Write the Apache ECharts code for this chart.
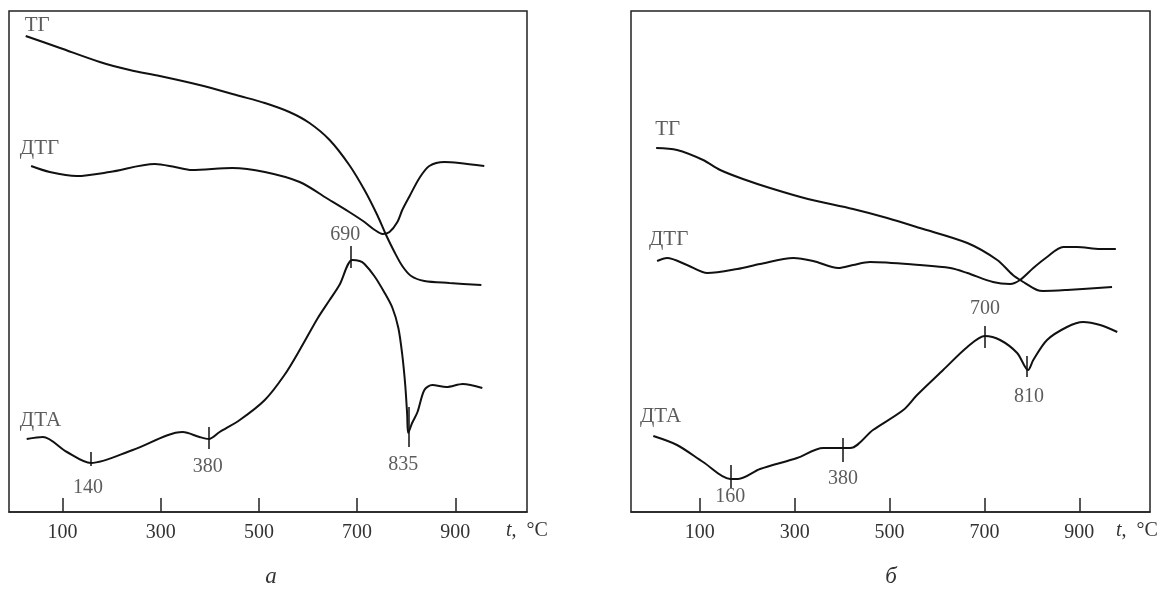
<!DOCTYPE html>
<html>
<head>
<meta charset="utf-8">
<script src="https://cdn.jsdelivr.net/npm/echarts@6/dist/echarts.min.js"></script>
<style>html,body{margin:0;padding:0;background:#fff}#c{width:1164px;height:595px}</style>
</head>
<body>
<div id="c"></div>
<script>
// x values in °C (as placed on the drawing), y in arbitrary deflection units
const tickValues = [100, 300, 500, 700, 900];

// Panel а
const tgA = [[25,476],[95,464],[176,450],[237,442],[298,436],[379,427],[461,416],[512,409],[562,400],[603,389],[644,372],[684,347],[715,322],[741,297],[759,277],[776,260],[792,246],[810,236],[837,231],[888,229],[953,227]];
const dtgA = [[36,346],[74,340],[129,336],[196,340],[288,348],[329,345],[363,342],[446,344],[512,340],[583,330],[644,312],[684,300],[715,290],[736,282],[752,278],[766,280],[782,290],[792,302],[807,316],[827,334],[847,346],[878,350],[908,349],[959,346]];
const dtaA = [[27,73],[60,75],[109,60],[158,49],[243,62],[345,80],[379,75],[398,73],[420,80],[461,92],[512,112],[552,137],[583,162],[620,194],[644,212],[664,227],[690,252],[705,251],[715,248],[735,236],[755,220],[772,204],[784,184],[792,157],[798,127],[802,97],[804,79],[812,89],[823,100],[837,122],[853,127],[882,125],[915,128],[955,124]];
const peakMarksA = [[158,46,60],[398,63,85],[688,244,266],[805,65,105]];
const peakLabelsA = [[152,24,'140'],[396,45,'380'],[676,277,'690'],[794,47,'835']];
const curveNamesA = [[23,487,'ТГ'],[13,364,'ДТГ'],[13,92,'ДТА']];

// Panel б
const tgB = [[8,364],[52,362],[107,352],[143,342],[191,333],[248,324],[328,313],[423,303],[495,294],[564,284],[664,269],[727,252],[760,237],[782,230],[811,222],[824,221],[874,222],[969,225]];
const dtgB = [[10,251],[31,254],[73,247],[116,239],[179,243],[227,248],[297,254],[339,251],[392,244],[423,247],[459,250],[564,247],[628,244],[664,239],[718,230],[754,228],[775,232],[803,244],[832,255],[866,265],[895,265],[944,263],[977,263]];
const dtaB = [[2,76],[52,67],[107,50],[164,33],[181,33],[227,43],[305,54],[360,64],[417,64],[465,82],[529,102],[558,117],[613,142],[664,165],[701,176],[733,172],[769,159],[792,142],[803,152],[832,172],[874,185],[908,190],[944,187],[980,180]];
const peakMarksB = [[166,24,47],[402,50,74],[701,164,186],[790,135,156]];
const peakLabelsB = [[164,15,'160'],[402,33,'380'],[701,203,'700'],[794,115,'810']];
const curveNamesB = [[6,383,'ТГ'],[-7,273,'ДТГ'],[-26,96,'ДТА']];

const FONT = 'Liberation Serif, DejaVu Serif, serif';
const INK = '#111';
const TXT = '#333';

function xAxisFor(idx, min, max) {
  return {
    type: 'value', gridIndex: idx, min: min, max: max,
    axisLine: { show: true, lineStyle: { color: '#222', width: 1.5 } },
    axisTick: { show: true, inside: true, length: 14, customValues: tickValues, lineStyle: { color: '#222', width: 1.5 } },
    axisLabel: { show: true, customValues: tickValues, margin: 11, fontSize: 20, fontFamily: FONT, color: TXT },
    splitLine: { show: false }
  };
}
function yAxisFor(idx) {
  return { type: 'value', gridIndex: idx, min: 0, max: 501, show: false, splitLine: { show: false } };
}
function curve(idx, data) {
  return {
    type: 'line', xAxisIndex: idx, yAxisIndex: idx, data: data, smooth: 0.3,
    showSymbol: false, symbol: 'none', silent: true, animation: false,
    lineStyle: { color: INK, width: 2 }
  };
}
function marks(idx, arr) {
  return {
    type: 'lines', coordinateSystem: 'cartesian2d', xAxisIndex: idx, yAxisIndex: idx,
    animation: false, silent: true,
    lineStyle: { color: INK, width: 1.5, opacity: 1 },
    data: arr.map(m => ({ coords: [[m[0], m[1]], [m[0], m[2]]] }))
  };
}
function texts(idx, arr, pos, size) {
  return {
    type: 'scatter', xAxisIndex: idx, yAxisIndex: idx, symbolSize: 0, clip: false,
    animation: false, silent: true,
    data: arr.map(t => ({ value: [t[0], t[1]], name: t[2] })),
    label: { show: true, position: pos, distance: 0, formatter: p => p.name,
      fontSize: size, fontFamily: FONT, color: TXT }
  };
}

const chart = echarts.init(document.getElementById('c'), null, { renderer: 'canvas' });
chart.setOption({
  backgroundColor: '#fff',
  animation: false,
  grid: [
    { left: 9, top: 11, width: 518, height: 501, show: true, borderColor: '#222', borderWidth: 1.5, backgroundColor: 'transparent' },
    { left: 631, top: 11, width: 519, height: 501, show: true, borderColor: '#222', borderWidth: 1.5, backgroundColor: 'transparent' }
  ],
  xAxis: [xAxisFor(0, -9, 1046), xAxisFor(1, -45, 1049)],
  yAxis: [yAxisFor(0), yAxisFor(1)],
  series: [
    curve(0, tgA), curve(0, dtgA), curve(0, dtaA), marks(0, peakMarksA),
    texts(0, peakLabelsA, 'inside', 20), texts(0, curveNamesA, 'right', 21),
    curve(1, tgB), curve(1, dtgB), curve(1, dtaB), marks(1, peakMarksB),
    texts(1, peakLabelsB, 'inside', 20), texts(1, curveNamesB, 'right', 21)
  ],
  graphic: [
    { type: 'text', x: 527, y: 531, silent: true, style: { text: '{i|t},  °C', textAlign: 'center', textVerticalAlign: 'middle', fill: TXT, font: '20px ' + FONT,
        rich: { i: { fontStyle: 'italic', fontSize: 20, fontFamily: FONT, fill: TXT } } } },
    { type: 'text', x: 1137, y: 531, silent: true, style: { text: '{i|t},  °C', textAlign: 'center', textVerticalAlign: 'middle', fill: TXT, font: '20px ' + FONT,
        rich: { i: { fontStyle: 'italic', fontSize: 20, fontFamily: FONT, fill: TXT } } } },
    { type: 'text', x: 271, y: 577, silent: true, style: { text: 'а', textAlign: 'center', textVerticalAlign: 'middle', fill: TXT, font: 'italic 23px ' + FONT } },
    { type: 'text', x: 891, y: 577, silent: true, style: { text: 'б', textAlign: 'center', textVerticalAlign: 'middle', fill: TXT, font: 'italic 23px ' + FONT } }
  ]
});
</script>
</body>
</html>
